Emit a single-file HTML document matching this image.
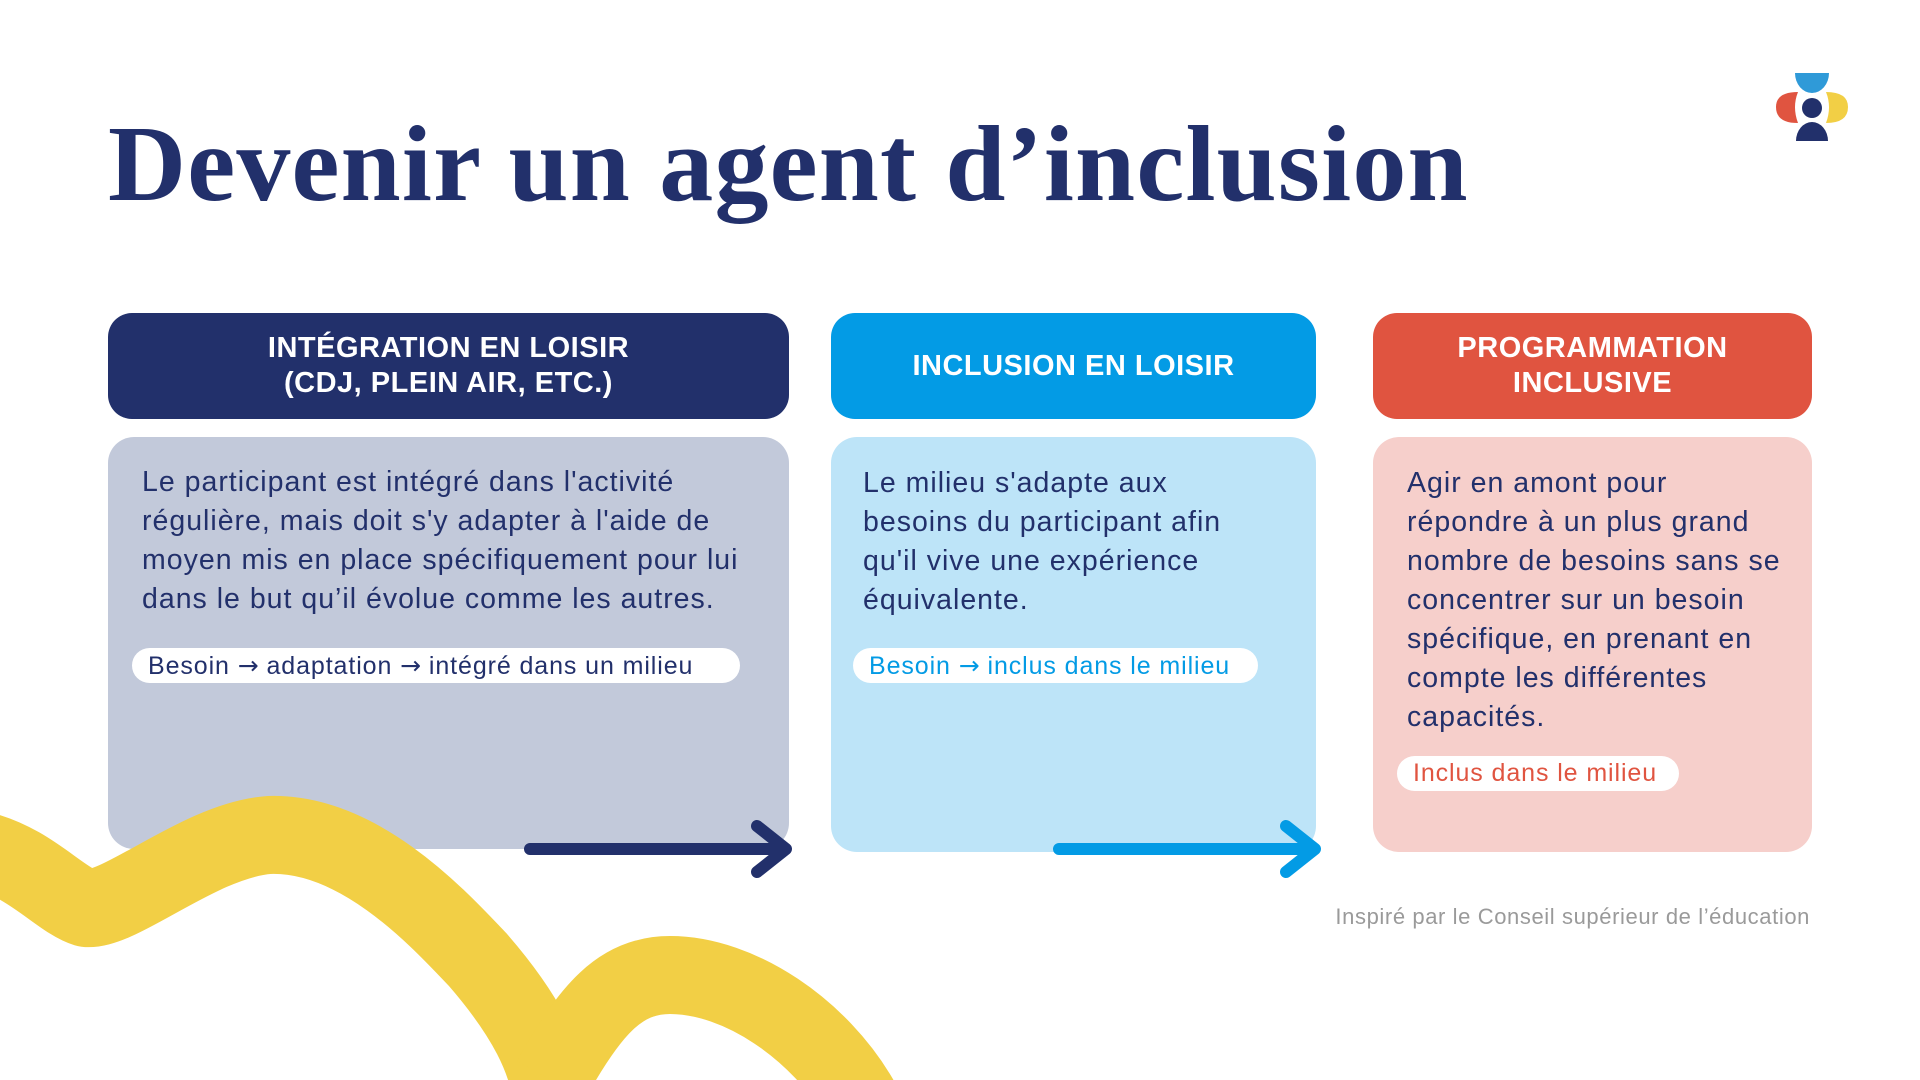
<!DOCTYPE html>
<html><head><meta charset="utf-8"><style>
*{margin:0;padding:0;box-sizing:border-box}
body{width:1920px;height:1080px;background:#fff;position:relative;overflow:hidden;font-family:"Liberation Sans",sans-serif}
.abs{position:absolute}
h1{position:absolute;left:108px;top:100px;font-family:"Liberation Serif",serif;font-weight:bold;font-size:108px;color:#22306b;letter-spacing:1.2px;white-space:nowrap;line-height:130px}
.hd{position:absolute;top:313px;height:106px;border-radius:24px;color:#fff;font-weight:bold;font-size:29px;line-height:35px;display:flex;align-items:center;justify-content:center;text-align:center;letter-spacing:0.5px}
.bd{position:absolute;top:437px;border-radius:26px}
.tx{position:absolute;font-size:28.5px;line-height:39px;white-space:nowrap;letter-spacing:1px}
.pill{position:absolute;background:#fff;border-radius:18px;height:35px;font-size:25px;line-height:35px;padding-left:16px;white-space:nowrap;letter-spacing:0.9px}
.ar{font-family:"DejaVu Sans",sans-serif;letter-spacing:0}
</style></head><body>
<h1>Devenir un agent d’inclusion</h1>

<svg class="abs" style="left:0;top:0" width="1920" height="1080">
<path d="M1795 73 H1829 A17 20 0 0 1 1795 73 Z" fill="#2f9ad8"/>
<path d="M1798 92 q-22 0 -22 15 q0 16 22 16 q-6 -16 0 -31z" fill="#e05440"/>
<path d="M1826 92 q22 0 22 15 q0 16 -22 16 q6 -16 0 -31z" fill="#f2cf45"/>
<circle cx="1812" cy="108" r="10" fill="#22306b"/>
<path d="M1796 141 a16 19 0 0 1 32 0 z" fill="#22306b"/>
</svg>

<div class="hd" style="left:108px;width:681px;background:#22306b">INTÉGRATION EN LOISIR<br>(CDJ, PLEIN AIR, ETC.)</div>
<div class="hd" style="left:831px;width:485px;background:#039be5">INCLUSION EN LOISIR</div>
<div class="hd" style="left:1373px;width:439px;background:#e05440">PROGRAMMATION<br>INCLUSIVE</div>

<div class="bd" style="left:108px;width:681px;height:412px;background:#c2c9da"></div>
<div class="bd" style="left:831px;width:485px;height:415px;background:#bde4f8"></div>
<div class="bd" style="left:1373px;width:439px;height:415px;background:#f6cfcb"></div>

<div class="tx" style="left:142px;top:463px;color:#22306b">Le participant est intégré dans l'activité<br>régulière, mais doit s'y adapter à l'aide de<br>moyen mis en place spécifiquement pour lui<br>dans le but qu’il évolue comme les autres.</div>
<div class="pill" style="left:132px;top:648px;width:608px;color:#22306b">Besoin <span class="ar">→</span> adaptation <span class="ar">→</span> intégré dans un milieu</div>

<div class="tx" style="left:863px;top:464px;color:#22306b">Le milieu s'adapte aux<br>besoins du participant afin<br>qu'il vive une expérience<br>équivalente.</div>
<div class="pill" style="left:853px;top:648px;width:405px;color:#039be5">Besoin <span class="ar">→</span> inclus dans le milieu</div>

<div class="tx" style="left:1407px;top:464px;color:#22306b">Agir en amont pour<br>répondre à un plus grand<br>nombre de besoins sans se<br>concentrer sur un besoin<br>spécifique, en prenant en<br>compte les différentes<br>capacités.</div>
<div class="pill" style="left:1397px;top:756px;width:282px;color:#e05440">Inclus dans le milieu</div>

<svg class="abs" style="left:0;top:0" width="1920" height="1080">
<path d="M-20 850 C30 862 60 900 86 908 C120 912 200 840 269 835 C360 832 440 920 478 960 C530 1020 545 1060 551 1090" fill="none" stroke="#f2cf45" stroke-width="78" stroke-linejoin="round"/>
<path d="M551 1080 C590 1010 620 975 670 975 C740 975 820 1030 860 1100" fill="none" stroke="#f2cf45" stroke-width="78"/>
<path d="M530 849 H784 M757 826 L786 849 L757 872" fill="none" stroke="#22306b" stroke-width="12" stroke-linecap="round" stroke-linejoin="round"/>
<path d="M1059 849 H1312 M1286 826 L1315 849 L1286 872" fill="none" stroke="#039be5" stroke-width="12" stroke-linecap="round" stroke-linejoin="round"/>
</svg>

<div class="abs" style="right:110px;top:904px;font-size:22px;letter-spacing:0.6px;color:#9a9a9a;white-space:nowrap">Inspiré par le Conseil supérieur de l’éducation</div>
</body></html>
